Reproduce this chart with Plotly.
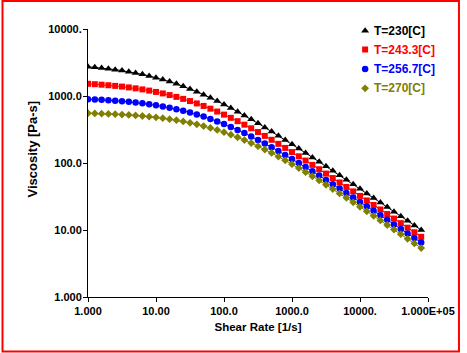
import plotly.graph_objects as go

shear_rate = [1.0, 1.259, 1.585, 1.995, 2.512, 3.162, 3.981, 5.012, 6.310, 7.943,
              10.0, 12.59, 15.85, 19.95, 25.12, 31.62, 39.81, 50.12, 63.10, 79.43,
              100.0, 125.9, 158.5, 199.5, 251.2, 316.2, 398.1, 501.2, 631.0, 794.3,
              1000.0, 1259, 1585, 1995, 2512, 3162, 3981, 5012, 6310, 7943,
              10000, 12589, 15849, 19953, 25119, 31623, 39811, 50119, 63096, 79433]

visc_230 = [2729, 2675, 2616, 2548, 2474, 2392, 2303, 2206, 2103, 1994,
            1879, 1761, 1641, 1518, 1396, 1276, 1160, 1048, 941.0, 840.9,
            747.6, 661.9, 583.2, 512.0, 447.9, 390.6, 339.8, 294.8, 255.3, 220.6,
            190.3, 163.9, 141.1, 121.2, 104.0, 89.30, 76.56, 65.60, 56.16, 48.07,
            41.13, 35.18, 30.08, 25.72, 21.99, 18.78, 16.05, 13.72, 11.71, 10.01]

visc_243 = [1521, 1500, 1475, 1447, 1416, 1382, 1343, 1301, 1254, 1204,
            1150, 1093, 1032, 969.9, 905.6, 840.3, 774.9, 710.3, 646.9, 585.8,
            527.5, 472.3, 420.9, 373.4, 329.6, 289.9, 253.9, 221.9, 193.2, 167.9,
            145.6, 125.9, 108.7, 93.72, 80.72, 69.41, 59.64, 51.20, 43.91, 37.65,
            32.26, 27.63, 23.64, 20.24, 17.31, 14.81, 12.66, 10.83, 9.256, 7.911]

visc_257 = [897.5, 888.4, 877.8, 865.7, 852.3, 836.9, 819.4, 799.8, 778.4, 754.4,
            728.3, 700.0, 669.4, 636.9, 602.6, 566.9, 530.1, 492.6, 455.0, 417.6,
            381.0, 345.4, 311.4, 279.3, 249.2, 221.3, 195.6, 172.2, 151.1, 132.1,
            115.1, 100.05, 86.80, 75.12, 64.91, 55.98, 48.24, 41.51, 35.67, 30.63,
            26.28, 22.54, 19.32, 16.55, 14.17, 12.13, 10.38, 8.879, 7.593, 6.493]

visc_270 = [553.3, 549.6, 545.3, 540.5, 534.8, 528.3, 521.0, 512.4, 502.7, 492.0,
            479.9, 466.3, 451.4, 435.0, 417.3, 398.0, 377.6, 356.2, 334.0, 311.2,
            288.2, 265.1, 242.3, 220.0, 198.6, 178.2, 159.0, 141.2, 124.8, 109.8,
            96.16, 83.99, 73.05, 63.39, 54.87, 47.38, 40.83, 35.13, 30.19, 25.91,
            22.20, 19.01, 16.26, 13.90, 11.88, 10.14, 8.659, 7.387, 6.302, 5.373]

series_names = ["T=230[C]", "T=243.3[C]", "T=256.7[C]", "T=270[C]"]
series_values = [visc_230, visc_243, visc_257, visc_270]
colors = ["#000000", "#FF0000", "#0000FF", "#808000"]
symbols = ["triangle-up", "square", "circle", "diamond"]
sizes = [7, 6, 6.5, 6]

x_tickvals = [1, 10, 100, 1000, 10000, 100000]
x_ticktext = ["1.000", "10.00", "100.0", "1000.0", "10000.", "1.000E+05"]
y_tickvals = [1, 10, 100, 1000, 10000]
y_ticktext = ["1.000", "10.00", "100.0", "1000.0", "10000."]

FONT = "Liberation Sans"

# plot area in pixels
L, R, T, B = 88, 434, 29, 297
W, H = R - L, B - T
def px(x):
    return (x - L) / W
def py(y):
    return (B - y) / H

fig = go.Figure()
for name, vals, c, s, sz in zip(series_names, series_values, colors, symbols, sizes):
    fig.add_trace(go.Scatter(
        x=shear_rate, y=vals, mode="lines+markers",
        line=dict(color=c, width=1),
        marker=dict(symbol=s, size=sz, color=c, line=dict(width=0)),
        showlegend=False, hoverinfo="skip"))

# legend drawn by hand: markers on an overlay axis, coloured texts as annotations
leg_y = [30.7, 49.5, 69, 88.3]
annotations = []
for name, c, s, sz, yy in zip(series_names, colors, symbols, sizes, leg_y):
    fig.add_trace(go.Scatter(
        x=[px(370)], y=[py(yy)], mode="markers", xaxis="x2", yaxis="y2",
        marker=dict(symbol=s, size=sz, color=c, line=dict(width=0)),
        showlegend=False, hoverinfo="skip", cliponaxis=False))
    annotations.append(dict(
        xref="paper", yref="paper", x=px(377), y=py(yy), xanchor="left", yanchor="middle",
        text=name, showarrow=False,
        font=dict(family=FONT, size=12, color=c, weight="bold")))

annotations.append(dict(
    xref="paper", yref="paper", x=px(32), y=py(148.5), xanchor="center", yanchor="middle",
    text="Viscosity [Pa-s]", textangle=-90, showarrow=False,
    font=dict(family=FONT, size=13, color="#000000", weight="bold")))

axis_common = dict(
    type="log", showgrid=False, zeroline=False, showline=True,
    linecolor="#000000", linewidth=1, ticks="outside", ticklen=4,
    tickcolor="#000000", tickwidth=1, mirror=False,
    tickfont=dict(family=FONT, size=11, color="#000000", weight="bold"),
)

fig.update_layout(
    width=467, height=353,
    margin=dict(l=L, r=467 - R, t=T, b=353 - B),
    paper_bgcolor="white", plot_bgcolor="white",
    font=dict(family=FONT, size=11, color="#000000"),
    showlegend=False,
    xaxis=dict(axis_common, range=[0, 5], tickvals=x_tickvals, ticktext=x_ticktext,
               title=dict(text="Shear Rate [1/s]", standoff=6,
                          font=dict(family=FONT, size=11.5, color="#000000", weight="bold"))),
    yaxis=dict(axis_common, range=[0, 4], tickvals=y_tickvals, ticktext=y_ticktext,
               ticklabelstandoff=-1),
    xaxis2=dict(overlaying="x", range=[0, 1], visible=False, anchor="y2"),
    yaxis2=dict(overlaying="y", range=[0, 1], visible=False, anchor="x2"),
    annotations=annotations,
    shapes=[dict(type="rect", xref="paper", yref="paper",
                 x0=px(1), x1=px(465.5), y0=py(351.5), y1=py(1),
                 line=dict(color="#FF0000", width=2), layer="above")],
)

fig.write_html("out.html")
